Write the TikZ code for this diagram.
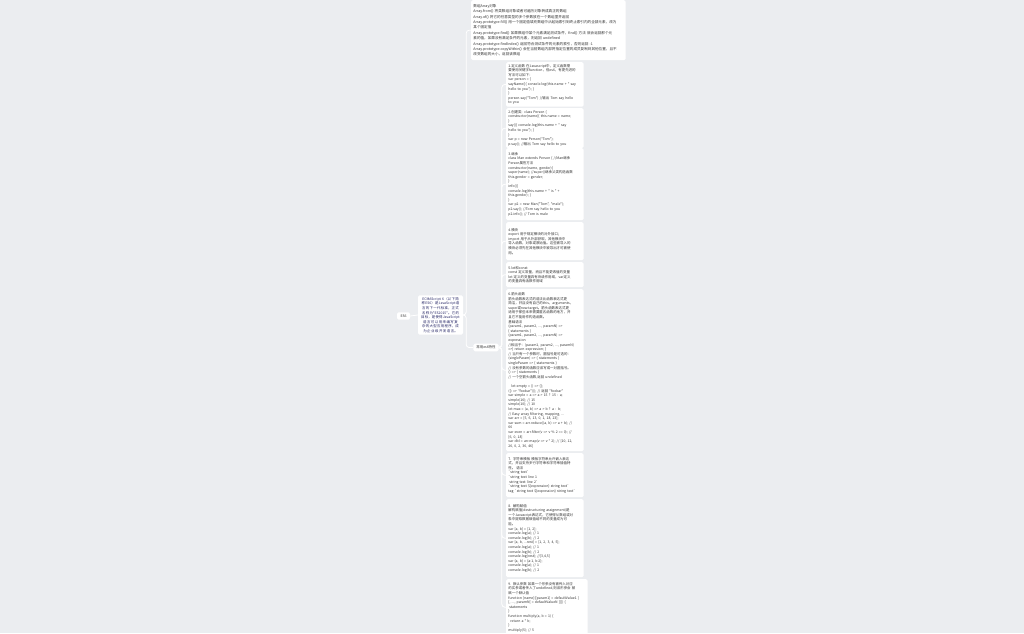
\documentclass[tikz,border=0pt]{standalone}
\usepackage{fontspec}
\newfontfamily\cn{Noto Sans CJK SC}
\XeTeXlinebreaklocale "zh"
\XeTeXlinebreakskip=0pt plus 1pt
\definecolor{bgc}{HTML}{EBEDF0}
\definecolor{txtc}{HTML}{333333}
\newcommand\nl{\\\relax}
\tikzset{
  base/.style={fill=white, rounded corners=1.5pt, text=txtc, font=\cn\fontsize{3.45pt}{4.6pt}\selectfont},
  card/.style={base, anchor=north west, align=left, inner xsep=2.2pt, inner ysep=2pt, text width=73pt},
  conn/.style={draw=white, line width=0.8pt, rounded corners=3pt},
}
\begin{document}
\begin{tikzpicture}[x=1pt,y=-1pt]
\fill[bgc] (0,0) rectangle (1024,633);
\useasboundingbox (0,0) rectangle (1024,633);

\node[base, inner xsep=3.5pt, inner ysep=2.3pt] (es6) at (403.5,316) {ES6};
\node[base, align=center, text width=41pt, inner sep=2pt, minimum height=36pt, text=txtc!75!blue] (intro) at (440.5,315)
 {ECMAScript 6（以下简称ES6）是JavaScript语言的下一代标准，正式名称为"ES2015"。它的目标，是使得JavaScript语言可以用来编写复杂的大型应用程序，成为企业级开发语言。};
\node[base, inner xsep=3pt, inner ysep=2.2pt] (feat) at (486,347.5) {常用es6特性};

\node[card, text width=150pt, minimum height=60pt, font=\cn\fontsize{3.6pt}{5.4pt}\selectfont] (arr) at (471,0) {%
数组Array对象\\
Array.from() 将类数组对象或者可遍历对象转成真正的数组\\
Array.of() 将它的任意类型的多个参数放在一个数组里并返回\\
Array.prototype.fill() 用一个固定值填充数组中从起始索引到终止索引内的全部元素，改为\\
某个固定值\\
Array.prototype.find() 如果数组中某个元素满足测试条件，find() 方法 就会返回那个元\\
素的值，如果没有满足条件的元素，则返回 undefined\\
Array.prototype.findIndex() 返回符合测试条件的元素的索引，否则返回 -1\\
Array.prototype.copyWithin() 会在当前数组内部将指定位置的成员复制到其他位置，且不\\
改变数组的大小，返回该数组};

\node[card, minimum height=44pt] (b1) at (506,62) {%
1.定义函数 在Javascript中，定义函数需\\
要使用关键字function，但es6，有更先进的\\
写法可以如下：\\
var person = \{\\
sayName()\{ console.log(this.name + " say\\
hello to you"); \}\\
\}\\
person.say("Tom") //输出 Tom say hello\\
to you};

\node[card, minimum height=38pt] (b2) at (506,108) {%
2.创建类: class Person \{\\
constructor(name)\{ this.name = name;\\
\}\\
say()\{ console.log(this.name + " say\\
hello to you"); \}\\
\}\\
var p = new Person("Tom");\\
p.say(); //输出 Tom say hello to you};

\node[card, minimum height=72pt] (b3) at (506,148) {%
3.继承\\
class Man extends Person \{ //Man继承\\
Person属性方法\\
constructor(name, gender)\{\\
super(name); //super()继承父类构造函数\\
this.gender = gender;\\
\}\\
info()\{\\
console.log(this.name + " is " +\\
this.gender); \}\\
\}\\
var p2 = new Man("Tom", "male");\\
p2.say(); //Tom say hello to you\\
p2.info(); // Tom is male};

\node[card, minimum height=38pt] (b4) at (506,222) {%
4.模块\\
export 用于规定模块的对外接口；\\
import 用于从外部获取，其他模块中\\
导入函数，对象或原始值。这些被导入的\\
模块必须先在其他模块中被导出才可被使\\
用。};

\node[card, minimum height=25pt] (b5) at (506,262) {%
5.let和const\\
const 定义常量，而且不能更改值的变量\\
let 定义的变量具有块级作用域，var定义\\
的变量具有函数作用域};

\node[card, minimum height=162pt] (b6) at (506,289) {%
6.箭头函数\\
箭头函数表达式的语法比函数表达式更\\
简洁，并且没有自己的this，arguments，\\
super或new.target。箭头函数表达式更\\
适用于那些本来需要匿名函数的地方，并\\
且它不能用作构造函数。\\
基础语法\\
(param1, param2, ..., paramN) =>\\
\{ statements \}\\
(param1, param2, ..., paramN) =>\\
expression\\
//相当于：(param1, param2, ..., paramN)\\
=>\{ return expression; \}\\
// 当只有一个参数时，圆括号是可选的：\\
(singleParam) => \{ statements \}\\
singleParam => \{ statements \}\\
// 没有参数的函数应该写成一对圆括号。\\
() => \{ statements \}\\
// 一个空箭头函数,返回 undefined\\
\mbox{}\\
\hspace*{3pt}let empty = () => \{\};\\
(() => "foobar")(); // 返回 "foobar"\\
var simple = a => a > 15 ? 15 : a;\\
simple(16); // 15\\
simple(10); // 10\\
let max = (a, b) => a > b ? a : b;\\
// Easy array filtering, mapping, ...\\
var arr = [5, 6, 13, 0, 1, 18, 23];\\
var sum = arr.reduce((a, b) => a + b); //\\
66\\
var even = arr.filter(v => v \% 2 == 0); //\nl
[6, 0, 18]\\
var dbl = arr.map(v => v * 2); // [10, 12,\\
26, 0, 2, 36, 46]};

\node[card, minimum height=44pt] (b7) at (506,453) {%
7. 字符串模板 模板字符串允许嵌入表达\\
式，并且支持多行字符串和字符串插值特\\
性。 语法\\
`string text`\\
`string text line 1\\
\hspace*{1pt}string text line 2`\\
`string text \$\{expression\} string text`\\
tag `string text \$\{expression\} string text`};

\node[card, minimum height=78pt] (b8) at (506,499) {%
8. 解构赋值\\
解构赋值(destructuring assignment)是\\
一个Javascript表达式，它使得从数组或对\\
象中提取数据赋值给不同的变量成为可\\
能。\\
var [a, b] = [1, 2];\\
console.log(a); // 1\\
console.log(b); // 2\\
var [a, b, ...rest] = [1, 2, 3, 4, 5];\\
console.log(a); // 1\\
console.log(b); // 2\\
console.log(rest); //[3,4,5]\\
var \{a, b\} = \{a:1, b:2\};\\
console.log(a); // 1\\
console.log(b); // 2};

\node[card, minimum height=56pt, text width=77pt] (b9) at (506,579) {%
9. 默认参数 如果一个形参没有被传入对应\\
的实参或者传入了undefined,则该形参会 被\\
赋一个默认值\\
function [name]([param1[ = defaultValue1 ]\nl
[, ..., paramN[ = defaultValueN ]]]) \{\\
\hspace*{1pt}statements\\
\}\\
function multiply(a, b = 1) \{\\
\hspace*{2pt}return a * b;\\
\}\\
multiply(5); // 5};

\draw[conn] (es6.east) -- (intro.west);
\draw[conn] (intro.east) -- ++(3,0) |- (arr.west);
\draw[conn] (intro.east) -- ++(3,0) |- (feat.west);
\foreach \b in {b1,b2,b3,b4,b5,b6,b7,b8,b9}
  \draw[conn] (feat.east) -- ++(3,0) |- (\b.west);
\end{tikzpicture}
\end{document}
